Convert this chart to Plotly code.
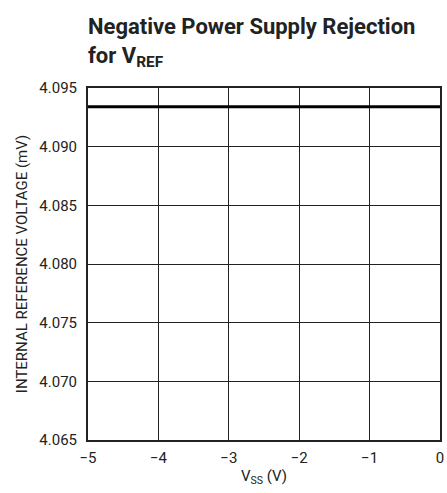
import plotly.graph_objects as go

# Data
vss = [-5, -4, -3, -2, -1, 0]
vref = [4.0934, 4.0934, 4.0934, 4.0934, 4.0934, 4.0934]
x_ticks = [-5, -4, -3, -2, -1, 0]
x_ticktext = ["\u22125", "\u22124", "\u22123", "\u22122", "\u22121", "0"]
y_ticks = [4.065, 4.070, 4.075, 4.080, 4.085, 4.090, 4.095]
y_ticktext = ["4.065", "4.070", "4.075", "4.080", "4.085", "4.090", "4.095"]

FONT = "Roboto, Liberation Sans, sans-serif"

fig = go.Figure()
fig.add_trace(go.Scatter(x=vss, y=vref, mode="lines",
                         line=dict(color="black", width=3), showlegend=False))

fig.update_layout(
    width=447, height=493,
    margin=dict(l=88, r=7, t=88, b=53, autoexpand=False),
    paper_bgcolor="white", plot_bgcolor="white",
    font=dict(family=FONT, size=15, color="#222"),
    annotations=[
        dict(text="<b>Negative Power Supply Rejection<br>for V<sub>REF</sub></b>",
             xref="paper", yref="paper", x=-0.005, y=1.044, xanchor="left", yanchor="bottom",
             align="left", showarrow=False,
             font=dict(family=FONT, size=22, color="#222")),
    ],
)
fig.update_xaxes(range=[-5, 0], tickvals=x_ticks, ticktext=x_ticktext,
                 showgrid=True, gridcolor="#222", gridwidth=1,
                 showline=True, linecolor="#222", linewidth=2, mirror=True,
                 ticks="outside", ticklen=3, tickcolor="white", zeroline=False,
                 ticklabeloverflow="allow", automargin=False,
                 title=dict(text="V<sub>SS</sub> (V)", standoff=4, font=dict(size=15)))
fig.update_yaxes(range=[4.065, 4.095], tickvals=y_ticks, ticktext=y_ticktext,
                 showgrid=True, gridcolor="#222", gridwidth=1,
                 showline=True, linecolor="#222", linewidth=2, mirror=True,
                 ticks="outside", ticklen=6, tickcolor="white", zeroline=False,
                 automargin=False,
                 title=dict(text="INTERNAL REFERENCE VOLTAGE (mV)", standoff=8, font=dict(size=15)))

fig.write_html("out.html", config={"displayModeBar": False},
               post_script="document.body.style.margin='0';")
